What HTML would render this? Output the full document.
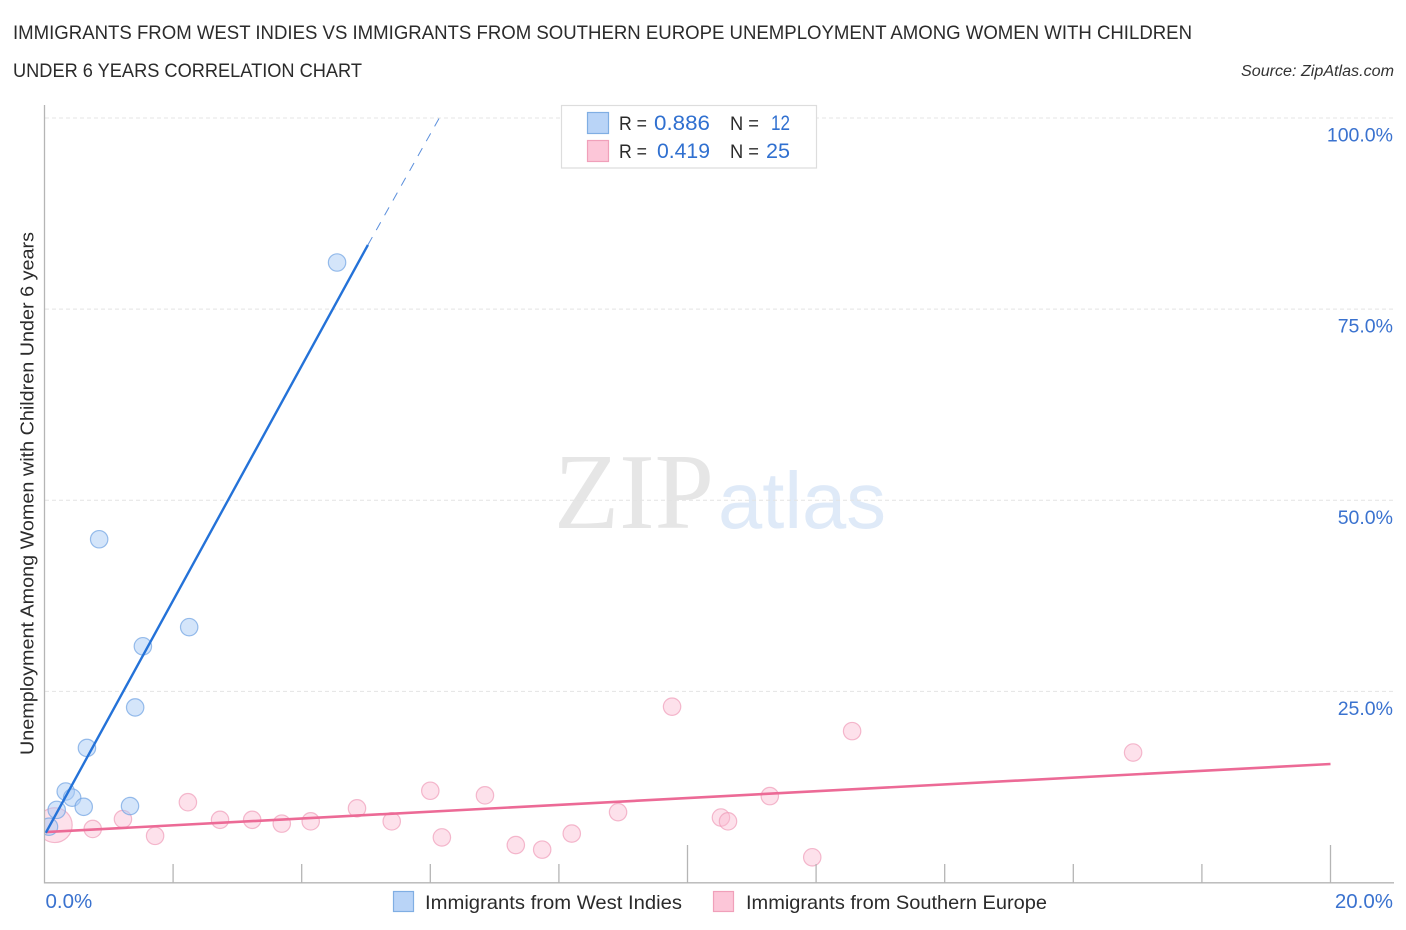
<!DOCTYPE html>
<html lang="en">
<head>
<meta charset="utf-8">
<title>Immigrants from West Indies vs Immigrants from Southern Europe Unemployment Correlation Chart</title>
<style>
html,body{margin:0;padding:0;background:#fff;}
svg{display:block;font-family:"Liberation Sans",sans-serif;}
</style>
</head>
<body>
<svg id="chart" width="1406" height="930" viewBox="0 0 1406 930" xmlns="http://www.w3.org/2000/svg">
  <defs><clipPath id="plot-clip"><rect x="45" y="100" width="1350" height="782"></rect></clipPath></defs>
  <rect x="0" y="0" width="1406" height="930" fill="#ffffff"></rect>

  <text x="13" y="39" font-size="19.5" fill="#2b2b2b" textLength="1179" lengthAdjust="spacingAndGlyphs">IMMIGRANTS FROM WEST INDIES VS IMMIGRANTS FROM SOUTHERN EUROPE UNEMPLOYMENT AMONG WOMEN WITH CHILDREN</text>
  <text x="13" y="77" font-size="19.5" fill="#2b2b2b" textLength="349" lengthAdjust="spacingAndGlyphs">UNDER 6 YEARS CORRELATION CHART</text>
  <text x="1241" y="76" font-size="15.5" font-style="italic" fill="#333333" textLength="153" lengthAdjust="spacingAndGlyphs">Source: ZipAtlas.com</text>

  <text x="554" y="528" font-family="'Liberation Serif',serif" font-size="108" fill="#e6e6e6" textLength="160" lengthAdjust="spacingAndGlyphs">ZIP</text>
  <text x="718" y="528" font-family="'Liberation Sans',sans-serif" font-size="80" fill="#dfeaf8" textLength="168" lengthAdjust="spacingAndGlyphs">atlas</text>

  <g id="grid-layer"></g>
  <g id="point-layer" clip-path="url(#plot-clip)"></g>
  <g id="trend-layer"></g>
  <g id="axis-layer"></g>

  <text transform="translate(33.5,755) rotate(-90)" x="0" y="0" font-size="18.5" fill="#2b2b2b" textLength="523" lengthAdjust="spacingAndGlyphs">Unemployment Among Women with Children Under 6 years</text>

  <g>
    <rect x="561.5" y="105.5" width="255" height="62.5" fill="#ffffff" stroke="#dddddd" stroke-width="1.2"></rect>
    <rect x="587.5" y="112.5" width="21" height="21" fill="#b9d4f7" stroke="#80aee3" stroke-width="1.2"></rect>
    <rect x="587.5" y="140.5" width="21" height="21" fill="#fcc6d8" stroke="#f0a0ba" stroke-width="1.2"></rect>
    <text x="619" y="130" font-size="19" fill="#2b2b2b" textLength="28" lengthAdjust="spacingAndGlyphs">R =</text>
    <text x="654" y="130" font-size="21" fill="#3070d0" textLength="56" lengthAdjust="spacingAndGlyphs">0.886</text>
    <text x="730" y="130" font-size="19" fill="#2b2b2b" textLength="29" lengthAdjust="spacingAndGlyphs">N =</text>
    <text x="771" y="130" font-size="21" fill="#3070d0" textLength="19" lengthAdjust="spacingAndGlyphs">12</text>
    <text x="619" y="158" font-size="19" fill="#2b2b2b" textLength="28" lengthAdjust="spacingAndGlyphs">R =</text>
    <text x="657" y="158" font-size="21" fill="#3070d0" textLength="53" lengthAdjust="spacingAndGlyphs">0.419</text>
    <text x="730" y="158" font-size="19" fill="#2b2b2b" textLength="29" lengthAdjust="spacingAndGlyphs">N =</text>
    <text x="766" y="158" font-size="21" fill="#3070d0" textLength="24" lengthAdjust="spacingAndGlyphs">25</text>
  </g>

  <g>
    <rect x="393.5" y="891.5" width="20" height="20" fill="#b9d4f7" stroke="#80aee3" stroke-width="1.2"></rect>
    <text x="425" y="909" font-size="19.5" fill="#2b2b2b" textLength="257" lengthAdjust="spacingAndGlyphs">Immigrants from West Indies</text>
    <rect x="713.5" y="891.5" width="20" height="20" fill="#fcc6d8" stroke="#f0a0ba" stroke-width="1.2"></rect>
    <text x="746" y="909" font-size="19.5" fill="#2b2b2b" textLength="301" lengthAdjust="spacingAndGlyphs">Immigrants from Southern Europe</text>
  </g>
</svg>

<script>
// Data (percent units)
const westIndiesX = [0.07, 0.19, 0.33, 0.43, 0.61, 0.66, 0.85, 1.33, 1.41, 1.53, 2.25, 4.55];
const westIndiesY = [7.3, 9.5, 11.9, 11.1, 9.9, 17.6, 44.9, 10.0, 22.9, 30.9, 33.4, 81.1];
const southEuropeX = [0.16, 0.75, 1.22, 1.72, 2.23, 2.73, 3.23, 3.69, 4.14, 4.86, 5.40, 6.00, 6.18, 6.85, 7.33, 7.74, 8.20, 8.92, 9.76, 10.52, 10.63, 11.28, 11.94, 12.56, 16.93];
const southEuropeY = [7.5, 7.0, 8.3, 6.1, 10.5, 8.2, 8.2, 7.7, 8.0, 9.7, 8.0, 12.0, 5.9, 11.4, 4.9, 4.3, 6.4, 9.2, 23.0, 8.5, 8.0, 11.3, 3.3, 19.8, 17.0];
const southEuropeWeight = [4, 1, 1, 1, 1, 1, 1, 1, 1, 1, 1, 1, 1, 1, 1, 1, 1, 1, 1, 1, 1, 1, 1, 1, 1];
const westIndiesTrendX = [0.02, 5.03];
const westIndiesTrendY = [6.5, 83.4];
const westIndiesExtensionX = [5.03, 6.14];
const westIndiesExtensionY = [83.4, 100];
const southEuropeTrendX = [0.02, 20];
const southEuropeTrendY = [6.6, 15.5];
const yTickValues = [25, 50, 75, 100];
const yTickLabels = ["25.0%", "50.0%", "75.0%", "100.0%"];
const xTickValues = [2, 4, 6, 8, 10, 12, 14, 16, 18, 20];
const xMajorTicks = [10, 20];
const xEndValues = [0, 20];
const xEndLabels = ["0.0%", "20.0%"];

const xScale = function (v) { return 44.5 + v * 64.3; };
const yScale = function (v) { return 882.5 - v * 7.645; };
const NS = "http://www.w3.org/2000/svg";
function make(parent, tag, attrs) {
  const el = document.createElementNS(NS, tag);
  Object.keys(attrs).forEach(function (k) { el.setAttribute(k, attrs[k]); });
  parent.appendChild(el);
  return el;
}
const grid = document.getElementById("grid-layer");
const axis = document.getElementById("axis-layer");
const pts = document.getElementById("point-layer");
const trends = document.getElementById("trend-layer");

yTickValues.forEach(function (v, i) {
  const line = make(grid, "line", {x1: 45, x2: 1394, y1: yScale(v), y2: yScale(v), stroke: "#e4e4e4", "stroke-width": 1, "stroke-dasharray": "4 3"});
  
  
  const label = make(axis, "text", {x: 1393, y: yScale(v) + 23.5, "text-anchor": "end", "font-size": 19.5, fill: "#3a72cf"});
  label.textContent = yTickLabels[i];
  
  
});

xTickValues.forEach(function (v) {
  const major = xMajorTicks.indexOf(v) >= 0;
  const tick = make(axis, "line", {x1: xScale(v), x2: xScale(v), y1: major ? 845 : 864, y2: 883, stroke: "#b5b5b5", "stroke-width": 1.3});
  
  
});

const yAxisLine = make(axis, "line", {x1: 44.5, x2: 44.5, y1: 105, y2: 883.5, stroke: "#b5b5b5", "stroke-width": 1.3});


const xAxisLine = make(axis, "line", {x1: 44, x2: 1394, y1: 882.8, y2: 882.8, stroke: "#b5b5b5", "stroke-width": 1.4});



xEndValues.forEach(function (v, i) {
  const attrs = i === 0
    ? {x: xScale(v) + 1, y: 908, "text-anchor": "start", "font-size": 20.5, fill: "#3a72cf"}
    : {x: 1393, y: 908, "text-anchor": "end", "font-size": 20.5, fill: "#3a72cf"};
  const label = make(axis, "text", attrs);
  label.textContent = xEndLabels[i];
  
  
});

southEuropeX.forEach(function (x, i) {
  const c = make(pts, "circle", {cx: xScale(x), cy: yScale(southEuropeY[i]), r: 8.7 * Math.sqrt(southEuropeWeight[i]), fill: "#fbb8cf", "fill-opacity": 0.42, stroke: "#f09cb9", "stroke-opacity": 0.7, "stroke-width": 1.2});
  
  
});

westIndiesX.forEach(function (x, i) {
  const c = make(pts, "circle", {cx: xScale(x), cy: yScale(westIndiesY[i]), r: 8.7, fill: "#a9cbf5", "fill-opacity": 0.5, stroke: "#6fa3e3", "stroke-opacity": 0.7, "stroke-width": 1.2});
  
  
});

const southLine = make(trends, "line", {x1: xScale(southEuropeTrendX[0]), y1: yScale(southEuropeTrendY[0]), x2: xScale(southEuropeTrendX[1]), y2: yScale(southEuropeTrendY[1]), stroke: "#ec6a96", "stroke-width": 2.6});


const westLine = make(trends, "line", {x1: xScale(westIndiesTrendX[0]), y1: yScale(westIndiesTrendY[0]), x2: xScale(westIndiesTrendX[1]), y2: yScale(westIndiesTrendY[1]), stroke: "#2472d8", "stroke-width": 2.4});


const westExt = make(trends, "line", {x1: xScale(westIndiesExtensionX[0]), y1: yScale(westIndiesExtensionY[0]), x2: xScale(westIndiesExtensionX[1]), y2: yScale(westIndiesExtensionY[1]), stroke: "#5b8fdc", "stroke-width": 1, "stroke-dasharray": "9 8"});


</script>
</body>
</html>
